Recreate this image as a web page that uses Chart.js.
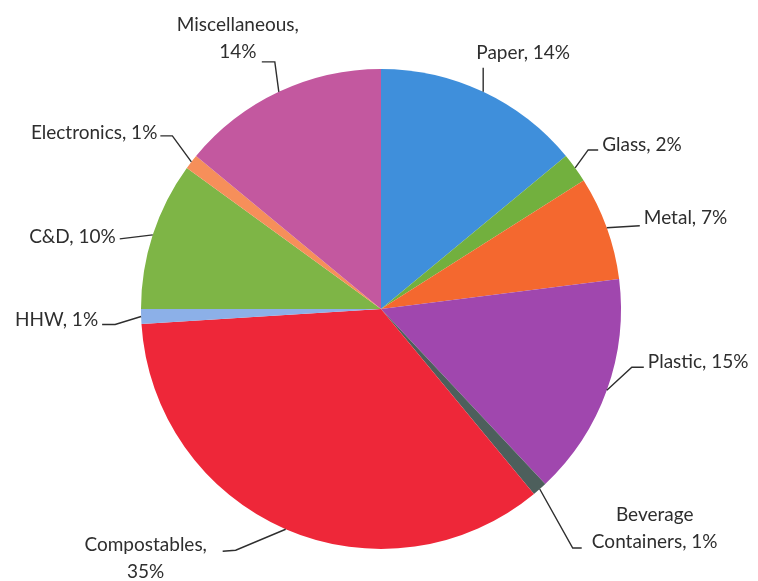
<!DOCTYPE html>
<html>
<head>
<meta charset="utf-8">
<script src="https://cdn.jsdelivr.net/npm/chart.js@4"></script>
<style>
  html, body { margin: 0; padding: 0; background: #fff; }
  #wrap { width: 758px; height: 581px; position: relative; }
</style>
</head>
<body>
<div id="wrap"><canvas id="pie"></canvas></div>
<script>
const categories = ['Paper', 'Glass', 'Metal', 'Plastic', 'Beverage Containers',
  'Compostables', 'HHW', 'C&D', 'Electronics', 'Miscellaneous'];
const shares = [14, 2, 7, 15, 1, 35, 1, 10, 1, 14];
const labelLines = [
  ['Paper, 14%'],
  ['Glass, 2%'],
  ['Metal, 7%'],
  ['Plastic, 15%'],
  ['Beverage', 'Containers, 1%'],
  ['Compostables,', '35%'],
  ['HHW, 1%'],
  ['C&D, 10%'],
  ['Electronics, 1%'],
  ['Miscellaneous,', '14%']
];
const sliceColors = ['#3f8fdb', '#72b03e', '#f4682f', '#a047ae', '#4d5f5c',
  '#ee2739', '#8cb0e8', '#7eb546', '#f68f5a', '#c3589f'];

// leader path (relative to slice edge midpoint) and text placement
const leaderPaths = [
  [[0, -24]],
  [[13, -18], [23, -18]],
  [[33, -2]],
  [[25, -23], [37, -23]],
  [[33, 59], [42, 59]],
  [[-50, 21], [-63, 22]],
  [[-26, 8], [-39, 8]],
  [[-33, 4]],
  [[-19, -26], [-31, -26]],
  [[-4, -30], [-17, -30]]
];
// [x, y of first line centre, align]
const textSpots = [
  [40, -39, 'center'],
  [27, -23, 'left'],
  [37, -10, 'left'],
  [41, -28, 'left'],
  [115, 26, 'center'],
  [-140, 16, 'center'],
  [-43, 3, 'right'],
  [-37, 2, 'right'],
  [-34, -29, 'right'],
  [-41, -67, 'center']
];

const calloutPlugin = {
  id: 'callouts',
  afterDatasetsDraw(chart) {
    const ctx = chart.ctx;
    const meta = chart.getDatasetMeta(0);
    ctx.save();
    ctx.font = '19px Lato';
    ctx.fillStyle = '#2e2e2e';
    ctx.strokeStyle = '#2e2e2e';
    ctx.lineWidth = 1.4;
    ctx.textBaseline = 'middle';
    meta.data.forEach((arc, i) => {
      const p = arc.getProps(['x', 'y', 'startAngle', 'endAngle', 'outerRadius'], true);
      const mid = (p.startAngle + p.endAngle) / 2;
      const ex = p.x + Math.cos(mid) * p.outerRadius;
      const ey = p.y + Math.sin(mid) * p.outerRadius;
      ctx.beginPath();
      ctx.moveTo(ex, ey);
      leaderPaths[i].forEach(pt => ctx.lineTo(ex + pt[0], ey + pt[1]));
      ctx.stroke();
      const t = textSpots[i];
      ctx.textAlign = t[2];
      labelLines[i].forEach((line, k) => {
        ctx.fillText(line, ex + t[0], ey + t[1] + k * 27);
      });
    });
    ctx.restore();
  }
};

new Chart(document.getElementById('pie'), {
  type: 'pie',
  data: {
    labels: categories,
    datasets: [{
      data: shares,
      backgroundColor: sliceColors,
      borderWidth: 0
    }]
  },
  options: {
    responsive: true,
    maintainAspectRatio: false,
    animation: false,
    layout: { padding: { top: 69, bottom: 32, left: 141, right: 137 } },
    plugins: {
      legend: { display: false },
      tooltip: { enabled: false }
    }
  },
  plugins: [calloutPlugin]
});
</script>
</body>
</html>
